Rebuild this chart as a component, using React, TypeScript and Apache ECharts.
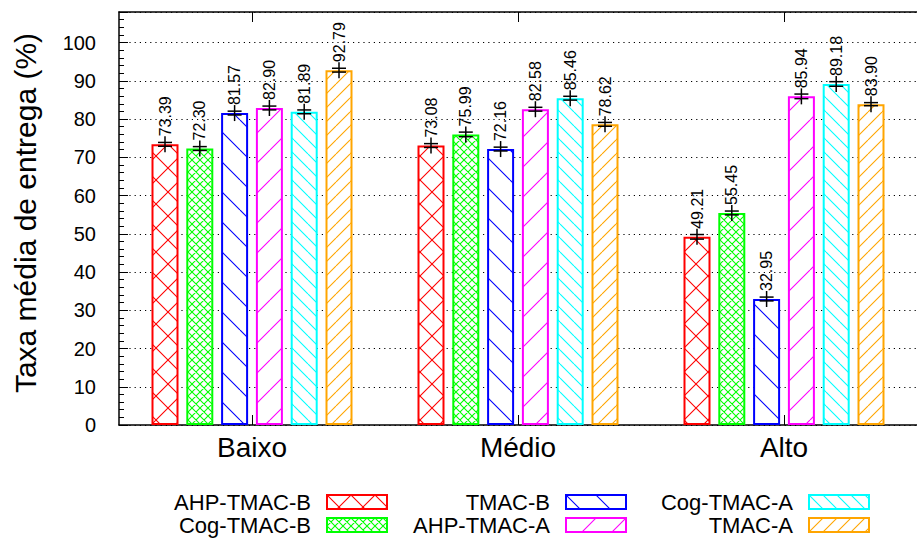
import React, { useEffect, useRef } from "react";
import * as echarts from "echarts";

// ---------- data ----------
const categories = ["Baixo", "Médio", "Alto"];
const seriesNames = ["AHP-TMAC-B", "Cog-TMAC-B", "TMAC-B", "AHP-TMAC-A", "Cog-TMAC-A", "TMAC-A"];
const ahpTmacB = [73.39, 73.08, 49.21];
const cogTmacB = [72.3, 75.99, 55.45];
const tmacB = [81.57, 72.16, 32.95];
const ahpTmacA = [82.9, 82.58, 85.94];
const cogTmacA = [81.89, 85.46, 89.18];
const tmacA = [92.79, 78.62, 83.9];
const errAhpTmacB = [0.5, 0.5, 0.6];
const errCogTmacB = [0.5, 0.6, 0.5];
const errTmacB = [0.5, 0.5, 0.5];
const errAhpTmacA = [0.5, 0.5, 0.6];
const errCogTmacA = [0.5, 0.5, 0.6];
const errTmacA = [0.5, 0.5, 0.4];
const yTicks = [0, 10, 20, 30, 40, 50, 60, 70, 80, 90, 100];

const seriesValues = [ahpTmacB, cogTmacB, tmacB, ahpTmacA, cogTmacA, tmacA];
const seriesErrors = [errAhpTmacB, errCogTmacB, errTmacB, errAhpTmacA, errCogTmacA, errTmacA];

// ---------- styles ----------
const COLORS = ["#ff0000", "#00ff00", "#0000ff", "#ff00ff", "#00ffff", "#ffa500"];
const HATCH: { size: number; dirs: string[] }[] = [
  { size: 24, dirs: ["/", "\\"] },
  { size: 8, dirs: ["/", "\\"] },
  { size: 30, dirs: ["\\"] },
  { size: 30, dirs: ["/"] },
  { size: 14, dirs: ["\\"] },
  { size: 14, dirs: ["/"] },
];
const FONT = "'Liberation Sans', Arial, Helvetica, sans-serif";
const BAR_W = 27;
const GAP_PX = 7.8;
const STEP = BAR_W + GAP_PX;
const Y_MAX = 108;

function makePattern(color: string, size: number, dirs: string[]) {
  const cv = document.createElement("canvas");
  cv.width = size;
  cv.height = size;
  const ctx = cv.getContext("2d")!;
  ctx.fillStyle = "#ffffff";
  ctx.fillRect(0, 0, size, size);
  ctx.strokeStyle = color;
  ctx.lineWidth = 1.1;
  ctx.beginPath();
  for (const d of dirs) {
    for (let k = -1; k <= 1; k++) {
      if (d === "/") {
        ctx.moveTo(k * size, size);
        ctx.lineTo(k * size + size, 0);
      } else {
        ctx.moveTo(k * size, 0);
        ctx.lineTo(k * size + size, size);
      }
    }
  }
  ctx.stroke();
  return {
    image: cv.toDataURL(),
    repeat: "repeat",
    imageWidth: size,
    imageHeight: size,
  };
}

export default function App() {
  const ref = useRef<HTMLDivElement>(null);

  useEffect(() => {
    if (!ref.current) return;
    const chart = echarts.init(ref.current, null, { renderer: "svg" });

    const barSeries = seriesNames.map((name, i) => ({
      name,
      type: "bar",
      data: seriesValues[i],
      barWidth: BAR_W,
      barGap: (GAP_PX / BAR_W) * 100 + "%",
      itemStyle: {
        color: makePattern(COLORS[i], HATCH[i].size, HATCH[i].dirs),
        borderColor: COLORS[i],
        borderWidth: 2,
      },
      emphasis: { disabled: true },
      label: {
        show: true,
        position: "top",
        rotate: 90,
        align: "left",
        verticalAlign: "middle",
        distance: 8,
        color: "#000",
        fontFamily: FONT,
        fontSize: 16,
        formatter: (p: any) => Number(p.value).toFixed(2),
      },
      z: 2,
    }));

    const errData: number[][] = [];
    seriesValues.forEach((arr, s) =>
      arr.forEach((v, c) => errData.push([c, v, s, seriesErrors[s][c]]))
    );

    const errSeries = {
      type: "custom",
      silent: true,
      z: 5,
      data: errData,
      encode: { x: 0, y: 1 },
      renderItem: (_params: any, api: any) => {
        const c = api.value(0);
        const v = api.value(1);
        const s = api.value(2);
        const e = api.value(3);
        const center = api.coord([c, v]);
        const x = center[0] + (s - 2.5) * STEP;
        const yHi = api.coord([c, v + e])[1];
        const yLo = api.coord([c, v - e])[1];
        const style = { stroke: "#000", lineWidth: 1.5 };
        return {
          type: "group",
          children: [
            { type: "line", shape: { x1: x, y1: center[1] - 8, x2: x, y2: center[1] + 8 }, style },
            { type: "line", shape: { x1: x - 7, y1: yHi, x2: x + 7, y2: yHi }, style },
            { type: "line", shape: { x1: x - 7, y1: yLo, x2: x + 7, y2: yLo }, style },
          ],
        };
      },
    };

    const iconRights = [388, 627, 870];
    const rowCenters = [502, 525];
    const legends = seriesNames.map((name, i) => {
      const col = Math.floor(i / 2);
      const row = i % 2;
      return {
        data: [name],
        orient: "horizontal",
        right: 917 - iconRights[col],
        top: rowCenters[row] - 11,
        align: "right",
        padding: 0,
        itemGap: 0,
        itemWidth: 60,
        itemHeight: 14,
        selectedMode: false,
        icon: "rect",
        itemStyle: { borderWidth: 2, borderColor: COLORS[i] },
        textStyle: {
          fontFamily: FONT,
          fontSize: 22,
          color: "#000",
          lineHeight: 22,
          padding: [0, 11, 0, 0],
        },
      };
    });

    const option: any = {
      animation: false,
      backgroundColor: "#ffffff",
      grid: { left: 119, top: 12, width: 804, height: 413, containLabel: false },
      legend: legends,
      xAxis: [
        {
          type: "category",
          data: categories,
          position: "bottom",
          axisLine: { show: true, lineStyle: { color: "#000", width: 1.5 } },
          axisTick: { show: true, inside: true, length: 10, alignWithLabel: true, lineStyle: { color: "#000", width: 1 } },
          axisLabel: { color: "#000", fontFamily: FONT, fontSize: 28, margin: 8 },
          splitLine: { show: false },
        },
        {
          type: "category",
          data: categories,
          position: "top",
          axisLine: { show: true, lineStyle: { color: "#000", width: 1.5 } },
          axisTick: { show: true, inside: true, length: 10, alignWithLabel: true, lineStyle: { color: "#000", width: 1 } },
          axisLabel: { show: false },
          splitLine: { show: false },
        },
      ],
      yAxis: {
        type: "value",
        min: yTicks[0],
        max: Y_MAX,
        interval: yTicks[1] - yTicks[0],
        axisLine: { show: true, lineStyle: { color: "#000", width: 1.5 } },
        axisTick: { show: true, inside: true, length: 9, lineStyle: { color: "#000" } },
        minorTick: { show: true, splitNumber: 5, length: 5, lineStyle: { color: "#000" } },
        axisLabel: {
          color: "#000",
          fontFamily: FONT,
          fontSize: 20,
          margin: 23,
          showMaxLabel: false,
          formatter: (v: number) => (yTicks.includes(v) ? String(v) : ""),
        },
        splitLine: { show: true, lineStyle: { color: "#000", width: 1, type: [1.2, 4] } },
      },
      graphic: [
        {
          type: "text",
          x: 25,
          y: 213,
          rotation: Math.PI / 2,
          style: {
            text: "Taxa média de entrega (%)",
            fontFamily: FONT,
            fontSize: 30,
            fill: "#000",
            textAlign: "center",
            textVerticalAlign: "middle",
          },
        },
      ],
      series: [...barSeries, errSeries],
    };

    chart.setOption(option);
    return () => chart.dispose();
  }, []);

  return (
    <div
      ref={ref}
      style={{ position: "fixed", left: 0, top: 0, width: 917, height: 538, background: "#fff" }}
    />
  );
}
